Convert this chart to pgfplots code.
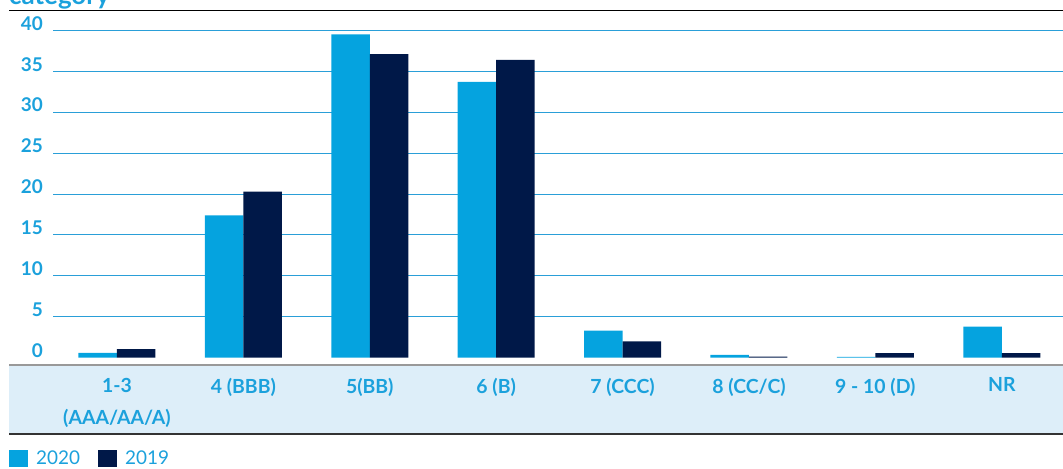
\documentclass[border=0pt]{standalone}
\usepackage{pgfplots}
\pgfplotsset{compat=1.18}
\usepackage{fontspec}
\setmainfont{Lato}
\definecolor{cA}{HTML}{05A3DF}
\definecolor{cB}{HTML}{001848}
\definecolor{tickc}{HTML}{1BA1DC}
\definecolor{gridc}{HTML}{2A9FD8}
\definecolor{bandc}{HTML}{DDEEF9}
\begin{document}
\begin{tikzpicture}[x=1bp,y=1bp]
\useasboundingbox (0,0) rectangle (1063,-469);
\clip (0,0) rectangle (1063,-469);
\fill[bandc] (9,-365) rectangle (1063,-434);
\draw[color=gray!80, line width=1.6bp] (9,-365) -- (1063,-365);
\draw[color=black!80, line width=1.4bp] (9,-434) -- (1063,-434);
\draw[black, line width=1.5bp] (9,-10.7) -- (1063,-10.7);
\node[anchor=base west, inner sep=0pt, text=tickc, font=\bfseries\fontsize{26}{30}\selectfont] at (9,-4.3) {category};
\begin{axis}[
  at={(53bp,-357.7bp)}, anchor=south west,
  scale only axis, width=1010bp, height=327.4bp,
  xmin=-0.506, xmax=7.484, ymin=0, ymax=40,
  axis line style={draw=none},
  major tick length=0pt,
  ybar=0pt, bar width=38.5bp,
  ytick={5,10,...,40},
  extra y ticks={0}, extra y tick style={ymajorgrids=false},
  ymajorgrids, grid style={gridc, line width=0.9bp},
  xtick={0,...,7},
  xticklabels={{1-3\\(AAA/AA/A)},{4 (BBB)},{5(BB)},{6 (B)},{7 (CCC)},{8 (CC/C)},{9 - 10 (D)},{NR}},
  /pgf/number format/assume math mode=true,
  yticklabel style={anchor=east, inner sep=0pt, xshift=-10bp, yshift=7bp, text=tickc, font=\bfseries\fontsize{19}{20}\selectfont},
  xticklabel style={anchor=north, inner sep=0pt, yshift=-20bp, align=center, text=tickc, font=\bfseries\fontsize{19.5}{33}\selectfont},
  legend columns=2,
  legend style={at={(-0.04356,-0.308)}, anchor=west, draw=none, fill=none, inner sep=0pt,
    font=\fontsize{19}{24}\selectfont, text=tickc,
    /tikz/every even column/.append style={column sep=16bp}},
  legend image code/.code={\fill[#1] (0bp,-8.5bp) rectangle (19bp,8.5bp); \path (25bp,0bp);},
]
\addplot[fill=cA, draw=none] coordinates {(0,0.6) (1,17.4) (2,39.5) (3,33.7) (4,3.3) (5,0.35) (6,0.1) (7,3.8)};
\addplot[fill=cB, draw=none] coordinates {(0,1.05) (1,20.3) (2,37.1) (3,36.4) (4,2.0) (5,0.12) (6,0.55) (7,0.55)};
\legend{2020,2019}
\end{axis}
\end{tikzpicture}
\end{document}
